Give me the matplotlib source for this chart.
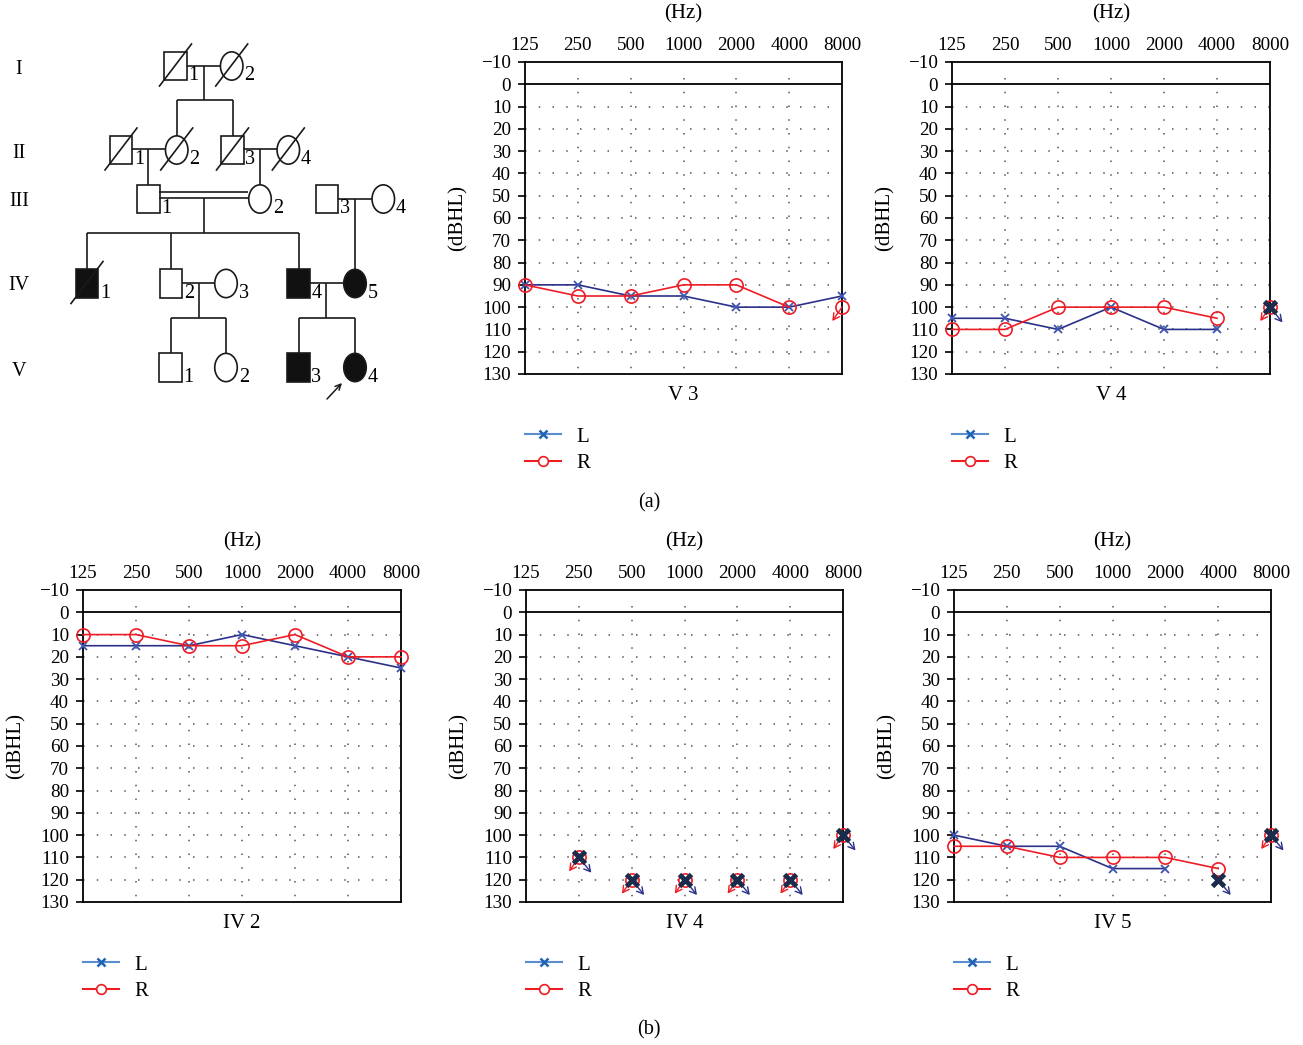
import numpy as np
import matplotlib
matplotlib.use("Agg")
import matplotlib.pyplot as plt
from matplotlib.lines import Line2D
from matplotlib.patches import Rectangle, Ellipse

plt.rcParams['font.family'] = ['Liberation Serif', 'DejaVu Serif']
plt.rcParams['axes.unicode_minus'] = True

nan = np.nan
freqs = ['125', '250', '500', '1000', '2000', '4000', '8000']
db_ticks = list(range(-10, 131, 10))

# ---- audiogram data (dBHL); *_nr = no response at max output ----
v3_L = [90, 90, 95, 95, 100, 100, 95]
v3_R = [90, 95, 95, 90, 90, 100, nan]
v3_L_nr = [nan] * 7
v3_R_nr = [nan, nan, nan, nan, nan, nan, 100]

v4_L = [105, 105, 110, 100, 110, 110, nan]
v4_R = [110, 110, 100, 100, 100, 105, nan]
v4_L_nr = [nan, nan, nan, nan, nan, nan, 100]
v4_R_nr = [nan, nan, nan, nan, nan, nan, 100]

iv2_L = [15, 15, 15, 10, 15, 20, 25]
iv2_R = [10, 10, 15, 15, 10, 20, 20]
iv2_L_nr = [nan] * 7
iv2_R_nr = [nan] * 7

iv4_L = [nan] * 7
iv4_R = [nan] * 7
iv4_L_nr = [nan, 110, 120, 120, 120, 120, 100]
iv4_R_nr = [nan, 110, 120, 120, 120, 120, 100]

iv5_L = [100, 105, 105, 115, 115, nan, nan]
iv5_R = [105, 105, 110, 110, 110, 115, nan]
iv5_L_nr = [nan, nan, nan, nan, nan, 120, 100]
iv5_R_nr = [nan, nan, nan, nan, nan, nan, 100]

# ---- pedigree: (label, sex, x, generation, affected, deceased) ----
gen_names = ['I', 'II', 'III', 'IV', 'V']
gen_y = [66, 150, 199, 283.5, 367.5]
gen_label_y = [70, 153, 202, 286, 371]
members = [
    ('1', 'm', 175.5, 0, False, True), ('2', 'f', 231.7, 0, False, True),
    ('1', 'm', 121.0, 1, False, True), ('2', 'f', 176.7, 1, False, True),
    ('3', 'm', 232.5, 1, False, True), ('4', 'f', 288.3, 1, False, True),
    ('1', 'm', 148.3, 2, False, False), ('2', 'f', 260.0, 2, False, False),
    ('3', 'm', 327.0, 2, False, False), ('4', 'f', 383.3, 2, False, False),
    ('1', 'm', 87.0, 3, True, True), ('2', 'm', 171.0, 3, False, False),
    ('3', 'f', 226.0, 3, False, False), ('4', 'm', 298.7, 3, True, False),
    ('5', 'f', 355.0, 3, True, False),
    ('1', 'm', 170.5, 4, False, False), ('2', 'f', 226.0, 4, False, False),
    ('3', 'm', 298.7, 4, True, False), ('4', 'f', 355.0, 4, True, False),
]
# pedigree connecting lines (x0, y0, x1, y1)
ped_lines = [
    (186.7, 66, 220, 66), (204, 66, 204, 100), (176.7, 100, 232.5, 100),
    (176.7, 100, 176.7, 136), (232.5, 100, 232.5, 136),
    (132.3, 149.3, 165, 149.3), (147.7, 149.3, 147.7, 185),
    (243.3, 149.3, 276.7, 149.3), (259.5, 149.3, 259.5, 185),
    (159.3, 192.3, 248.3, 192.3), (159.3, 197.7, 248.3, 197.7),
    (204, 197.7, 204, 233.3), (87, 233.3, 298.7, 233.3),
    (87, 233.3, 87, 269.3), (171, 233.3, 171, 269.3), (298.7, 233.3, 298.7, 269.3),
    (337.7, 199.3, 371.7, 199.3), (354.5, 199.3, 354.5, 269.3),
    (181.7, 283.3, 215, 283.3), (199, 283.3, 199, 317.7),
    (170.5, 317.7, 226, 317.7), (170.5, 317.7, 170.5, 353.3), (226, 317.7, 226, 353.3),
    (310, 283.3, 343.3, 283.3), (326, 283.3, 326, 317.7),
    (298.7, 317.7, 355, 317.7), (298.7, 317.7, 298.7, 353.3), (355, 317.7, 355, 353.3),
]
proband_arrow = ((327, 399), (342, 383))

W, H = 1303, 1045
fig = plt.figure(figsize=(W / 100, H / 100), dpi=100)

# ---------------- pedigree (pixel-space axes) ----------------
pax = fig.add_axes([0, 0, 1, 1])
pax.set_xlim(0, W)
pax.set_ylim(H, 0)
pax.axis('off')
sw, sh = 22.5, 28.3
lw_p = 1.2
for (x0, y0, x1, y1) in ped_lines:
    pax.plot([x0, x1], [y0, y1], color='#1a1a1a', lw=lw_p, solid_capstyle='butt')
for name, y in zip(gen_names, gen_label_y):
    pax.text(19, y, name, ha='center', va='center', fontsize=14.5)
for lab, sex, x, g, aff, dec in members:
    y = gen_y[g]
    fc = '#111111' if aff else 'white'
    if sex == 'm':
        pax.add_patch(Rectangle((x - sw / 2, y - sh / 2), sw, sh, facecolor=fc,
                                edgecolor='#1a1a1a', lw=lw_p))
    else:
        pax.add_patch(Ellipse((x, y), sw, sh, facecolor=fc, edgecolor='#1a1a1a', lw=lw_p))
    if dec:
        pax.plot([x - 16, x + 16], [y + 20, y - 22], color='#1a1a1a', lw=lw_p)
    pax.text(x + sw / 2 + 1.5, y + sh / 2, lab, ha='left', va='baseline', fontsize=14.5)
pax.annotate('', xy=proband_arrow[1], xytext=proband_arrow[0],
             arrowprops=dict(arrowstyle='->', color='#1a1a1a', lw=1.1,
                             shrinkA=0, shrinkB=0))

fig.text(649 / W, 1 - 503 / H, '(a)', ha='center', va='center', fontsize=14.5)
fig.text(649 / W, 1 - 1030 / H, '(b)', ha='center', va='center', fontsize=14.5)

# ---------------- audiograms ----------------
navy = '#2b3088'
xblue = '#3d55b0'
red = '#ee1c25'
dark = '#1b2b4b'
FS = 13.8
LFS = 15


def audiogram(rect_px, L, R, Lnr, Rnr, name):
    left, top, right, bottom = rect_px
    ax = fig.add_axes([left / W, 1 - bottom / H, (right - left) / W, (bottom - top) / H])
    wpx, hpx = right - left, bottom - top
    x = np.arange(len(freqs))
    ax.set_xlim(0, len(freqs) - 1)
    ax.set_ylim(130, -10)
    ax.hlines(range(10, 130, 10), 0, len(freqs) - 1, colors='#555555',
              linestyles=(0, (1, 8)), lw=1.1)
    ax.vlines(x[1:-1], -3, 130, colors='#555555', linestyles=(0, (1, 8)), lw=1.1)
    ax.axhline(0, color='black', lw=1.3)
    ax.plot(x, L, color=navy, lw=1.2, marker='x', ms=6, mec=xblue, mew=1.3,
            clip_on=False, zorder=3)
    ax.plot(x, R, color=red, lw=1.2, marker='o', ms=9.5, mfc='none', mec=red,
            mew=1.2, clip_on=False, zorder=3)
    ax.plot(x, Rnr, ls='none', marker='o', ms=9.5, mfc='none', mec=red, mew=1.2,
            clip_on=False, zorder=4)
    for i, v in enumerate(Rnr):
        if np.isfinite(v):
            ax.annotate('', xy=(i, v), xytext=(-7, -10), textcoords='offset points',
                        arrowprops=dict(arrowstyle='<-, head_length=0.45, head_width=0.25',
                                        color=red, lw=1.0, shrinkA=0, shrinkB=0),
                        annotation_clip=False, zorder=4)
    for i, v in enumerate(Lnr):
        if np.isfinite(v):
            ax.annotate('', xy=(i, v), xytext=(9, -11), textcoords='offset points',
                        arrowprops=dict(arrowstyle='<-, head_length=0.45, head_width=0.25',
                                        color=navy, lw=1.0, shrinkA=0, shrinkB=0),
                        annotation_clip=False, zorder=5)
    ax.plot(x, Lnr, ls='none', marker='x', ms=8, mew=3.5, color=dark,
            clip_on=False, zorder=6)

    ax.set_xticks(x)
    ax.set_xticklabels(freqs, fontsize=FS)
    ax.xaxis.tick_top()
    ax.tick_params(axis='x', length=0, pad=6)
    ax.set_yticks(db_ticks)
    ax.tick_params(axis='y', length=5, width=1.2, pad=5, labelsize=FS)
    for s in ax.spines.values():
        s.set_color('black')
        s.set_linewidth(1.3)

    ax.text(0.5, 1 + 48 / hpx, '(Hz)', transform=ax.transAxes, ha='center',
            va='center', fontsize=LFS)
    ax.text(-67 / wpx, 0.5, '(dBHL)', transform=ax.transAxes, ha='center',
            va='center', rotation=90, fontsize=LFS)
    ax.text(0.5, -22 / hpx, name, transform=ax.transAxes, ha='center',
            va='center', fontsize=LFS)

    handles = [
        Line2D([], [], color='#5a8cd0', lw=1.5, marker='x', ms=6, mec='#1f62b5', mew=1.8),
        Line2D([], [], color=red, lw=1.5, marker='o', ms=7, mfc='white', mec=red, mew=1.2),
    ]
    ax.legend(handles, ['L', 'R'], loc='upper left', bbox_to_anchor=(0, -53 / hpx),
              frameon=False, borderpad=0, borderaxespad=0, fontsize=LFS,
              handlelength=1.75, handletextpad=0.7, labelspacing=0.35)
    return ax


audiogram((525, 62, 842, 374), v3_L, v3_R, v3_L_nr, v3_R_nr, 'V 3')
audiogram((952, 62, 1270, 374), v4_L, v4_R, v4_L_nr, v4_R_nr, 'V 4')
audiogram((83, 590, 401, 902), iv2_L, iv2_R, iv2_L_nr, iv2_R_nr, 'IV 2')
audiogram((526, 590, 843, 902), iv4_L, iv4_R, iv4_L_nr, iv4_R_nr, 'IV 4')
audiogram((954, 590, 1271, 902), iv5_L, iv5_R, iv5_L_nr, iv5_R_nr, 'IV 5')

fig.savefig('out.png', dpi=100)
